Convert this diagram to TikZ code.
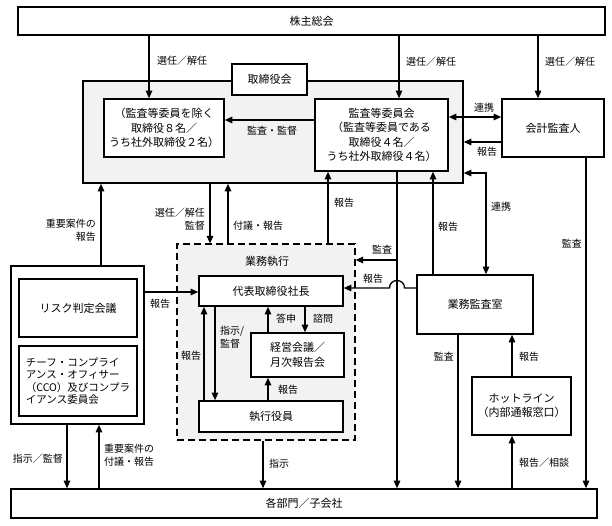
\documentclass[tikz,border=0pt]{standalone}
\usepackage{fontspec}
\setmainfont{Noto Sans CJK JP}
\usetikzlibrary{arrows.meta}

\begin{document}
\begin{tikzpicture}
	[x=1pt,y=-1pt,%
	box/.style      ={rectangle,	draw=black,	fill=white,		line width=1.6pt,	inner sep=0pt,	align=center,	font=\fontsize{11}{14.4}\selectfont},%
	boardframe/.style={rectangle,	draw=black,	fill=gray!10,	line width=1.6pt,	inner sep=0pt},%
	execframe/.style={rectangle,	draw=black,	fill=gray!10,	line width=1.2pt,	inner sep=0pt,	dash pattern=on 7pt off 4pt},%
	lbl/.style      ={inner sep=1pt,	font=\fontsize{10}{12.6}\selectfont},%
	arr/.style      ={line width=1.3pt,	-{Triangle[length=7.5pt,width=6.5pt]}},%
	dbl/.style      ={line width=1.3pt,	{Triangle[length=7.5pt,width=6.5pt]}-{Triangle[length=7.5pt,width=6.5pt]}},%
	]

	\useasboundingbox (0,0) rectangle (612,525);

	% nodes
	\node (kabu)     at (311.5,21)  [box, minimum width=587pt, minimum height=28pt] {株主総会};
	\node (board)    at (273,132)   [boardframe, minimum width=380pt, minimum height=102pt] {};
	\node (boardlbl) at (269.5,79.5)[box, minimum width=75pt, minimum height=31pt] {取締役会};
	\node (dir)      at (164,128)   [box, minimum width=120pt, minimum height=58pt] {（監査等委員を除く\\取締役８名／\\うち社外取締役２名）};
	\node (kansa)    at (381.5,135) [box, minimum width=133pt, minimum height=72pt] {監査等委員会\\（監査等委員である\\取締役４名／\\うち社外取締役４名）};
	\node (kaikei)   at (553,128)   [box, minimum width=102pt, minimum height=58pt] {会計監査人};

	\node (exec)     at (266,342)   [execframe, minimum width=178pt, minimum height=196pt] {};
	\node (execlbl)  at (267,261)   [lbl, font=\fontsize{11}{13}\selectfont] {業務執行};
	\node (ceo)      at (271,291)   [box, minimum width=144pt, minimum height=30pt] {代表取締役社長};
	\node (keiei)    at (297.5,355) [box, minimum width=93pt, minimum height=44pt] {経営会議／\\月次報告会};
	\node (yakuin)   at (271,416.5) [box, minimum width=144pt, minimum height=31pt] {執行役員};

	\node (risk)     at (77.5,345)  [box, minimum width=133pt, minimum height=158pt] {};
	\node (riskj)    at (78,308)    [box, minimum width=118pt, minimum height=58pt] {リスク判定会議};
	\node (cco)      at (78,381)    [box, minimum width=118pt, minimum height=70pt, align=left, font=\fontsize{10.5}{12.4}\selectfont] {チーフ・コンプライ\\アンス・オフィサー\\（CCO）及びコンプラ\\イアンス委員会};

	\node (audit)    at (475,304.5) [box, minimum width=116pt, minimum height=59pt] {業務監査室};
	\node (hotline)  at (521.5,406) [box, minimum width=99pt, minimum height=58pt] {ホットライン\\（内部通報窓口）};
	\node (bumon)    at (304,503.5) [box, minimum width=586pt, minimum height=29pt] {各部門／子会社};

	\coordinate (kbr) at (397,260);

	% interconnections
	\draw [arr] (kabu.south -| 149,0) to (dir.north -| 149,0);
	\draw [arr] (kabu.south -| 399,0) to (kansa.north -| 399,0);
	\draw [arr] (kabu.south -| 538,0) to (kaikei.north -| 538,0);

	\draw [arr] (kansa.west |- 0,120) to (dir.east |- 0,120);
	\draw [dbl] (kansa.east |- 0,117) to (kaikei.west |- 0,117);
	\draw [arr] (kaikei.west |- 0,142) to (board.east |- 0,142);
	\draw [dbl] (board.east |- 0,173) -| (audit.north -| 486,0);
	\draw [arr] (kaikei.south -| 586,0) to (bumon.north -| 586,0);

	\draw [arr] (audit.north -| 433,0) to (kansa.south -| 433,0);
	\draw [arr] (audit.west |- 0,288) -- (404.5,288) .. controls (404.5,278) and (389.5,278) .. (389.5,288) -- (ceo.east |- 0,288);
	\draw [arr] (kansa.south -| kbr) to (bumon.north -| kbr);
	\draw [arr] (kbr) to (exec.east |- kbr);
	\draw [arr] (exec.north -| 328,0) to (kansa.south -| 328,0);

	\draw [arr] (board.south -| 210,0) to (exec.north -| 210,0);
	\draw [arr] (exec.north -| 228,0) to (board.south -| 228,0);
	\draw [arr] (risk.north -| 101,0) to (board.south -| 101,0);
	\draw [arr] (risk.east |- 0,292) to (ceo.west |- 0,292);

	\draw [arr] (yakuin.north -| 204,0) to (ceo.south -| 204,0);
	\draw [arr] (ceo.south -| 215,0) to (yakuin.north -| 215,0);
	\draw [arr] (keiei.north -| 268,0) to (ceo.south -| 268,0);
	\draw [arr] (ceo.south -| 305,0) to (keiei.north -| 305,0);
	\draw [arr] (yakuin.north -| 268,0) to (keiei.south -| 268,0);

	\draw [arr] (exec.south -| 263,0) to (bumon.north -| 263,0);
	\draw [arr] (risk.south -| 67,0) to (bumon.north -| 67,0);
	\draw [arr] (bumon.north -| 99,0) to (risk.south -| 99,0);
	\draw [arr] (audit.south -| 458,0) to (bumon.north -| 458,0);
	\draw [arr] (hotline.north -| 512,0) to (audit.south -| 512,0);
	\draw [arr] (bumon.north -| 512,0) to (hotline.south -| 512,0);

	% labels
	\node (l1)  at (156,61)  [lbl, anchor=west] {選任／解任};
	\node (l2)  at (405,62)  [lbl, anchor=west] {選任／解任};
	\node (l3)  at (544,62)  [lbl, anchor=west] {選任／解任};
	\node (l4)  at (272,131) [lbl] {監査・監督};
	\node (l5)  at (484,108) [lbl] {連携};
	\node (l6)  at (487,152) [lbl] {報告};
	\node (l7)  at (490,207) [lbl, anchor=west] {連携};
	\node (l8)  at (583,244) [lbl, anchor=east] {監査};
	\node (l9)  at (437,227) [lbl, anchor=west] {報告};
	\node (l10) at (373,279) [lbl] {報告};
	\node (l11) at (382,250) [lbl] {監査};
	\node (l12) at (333,203) [lbl, anchor=west] {報告};
	\node (l13) at (206,219) [lbl, anchor=east, align=right] {選任／解任\\監督};
	\node (l14) at (232,226) [lbl, anchor=west] {付議・報告};
	\node (l15) at (97,230)  [lbl, anchor=east, align=right] {重要案件の\\報告};
	\node (l16) at (160,304) [lbl] {報告};
	\node (l17) at (191,356) [lbl] {報告};
	\node (l18) at (219,337) [lbl, anchor=west, align=left] {指示/\\監督};
	\node (l19) at (275,319) [lbl, anchor=west] {答申};
	\node (l20) at (312,319) [lbl, anchor=west] {諮問};
	\node (l21) at (277,390) [lbl, anchor=west] {報告};
	\node (l22) at (268,464) [lbl, anchor=west] {指示};
	\node (l23) at (64,459)  [lbl, anchor=east] {指示／監督};
	\node (l24) at (103,455) [lbl, anchor=west, align=left] {重要案件の\\付議・報告};
	\node (l25) at (455,357) [lbl, anchor=east] {監査};
	\node (l26) at (518,357) [lbl, anchor=west] {報告};
	\node (l27) at (518,463) [lbl, anchor=west] {報告／相談};

\end{tikzpicture}
\end{document}
